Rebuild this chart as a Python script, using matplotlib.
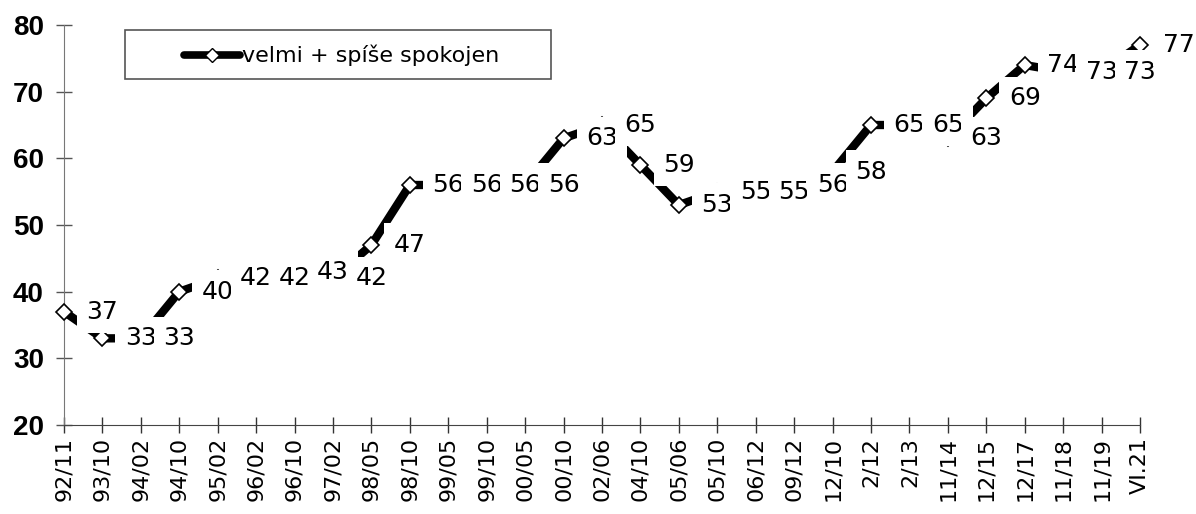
import matplotlib.pyplot as plt
from matplotlib.lines import Line2D
from matplotlib.patches import Rectangle

obdobi = ["92/11", "93/10", "94/02", "94/10", "95/02", "96/02", "96/10", "97/02",
          "98/05", "98/10", "99/05", "99/10", "00/05", "00/10", "02/06", "04/10",
          "05/06", "05/10", "06/12", "09/12", "12/10", "2/12", "2/13", "11/14",
          "12/15", "12/17", "11/18", "11/19", "VI.21"]
spokojen = [37, 33, 33, 40, 42, 42, 43, 42, 47, 56, 56, 56, 56, 63, 65, 59,
            53, 55, 55, 56, 58, 65, 65, 63, 69, 74, 73, 73, 77]
nazev = "velmi + spíše spokojen"

fig = plt.figure(figsize=(11.96, 5.14), dpi=100)
ax = fig.add_axes([64 / 1196, 1 - 425 / 514, (1140 - 64) / 1196, 400 / 514])

x = list(range(len(obdobi)))
ax.plot(x, spokojen, color="black", linewidth=6, marker="D", markersize=8.5,
        markerfacecolor="white", markeredgecolor="black", markeredgewidth=1.2,
        zorder=3, clip_on=False)

# popisky hodnot - posunute o jedno obdobi doprava, s bilym pozadim
for i, v in enumerate(spokojen):
    ax.text(i + 1, v, str(v), ha="center", va="center", fontsize=18,
            family="DejaVu Sans", zorder=5, clip_on=False,
            bbox=dict(boxstyle="square,pad=0.38", facecolor="white", edgecolor="none"))

ax.set_xlim(0, len(obdobi) - 1)
ax.set_ylim(20, 80)
ax.set_yticks([20, 30, 40, 50, 60, 70, 80])
ax.set_xticks(x)
ax.set_xticklabels(obdobi, rotation=90, fontsize=16, family="DejaVu Sans")
for lab in ax.get_yticklabels():
    lab.set_fontfamily("Liberation Sans")
    lab.set_fontweight("bold")
    lab.set_fontsize(20)

ax.tick_params(axis="y", direction="inout", length=11, width=1, pad=9, colors="#555555", labelcolor="black")
ax.tick_params(axis="x", direction="inout", length=11, width=1, pad=3, colors="#333333", labelcolor="black")
ax.spines["top"].set_visible(False)
ax.spines["right"].set_visible(False)
ax.spines["left"].set_color("#777777")
ax.spines["bottom"].set_color("#444444")

# legenda
fig.patches.append(Rectangle((125 / 1196, 1 - 79 / 514), 426 / 1196, 49 / 514,
                             transform=fig.transFigure, facecolor="white",
                             edgecolor="#555555", linewidth=1.2))
fig.lines.append(Line2D([184 / 1196, 240 / 1196], [1 - 55 / 514] * 2, transform=fig.transFigure,
                        color="black", linewidth=5.5, solid_capstyle="round"))
fig.lines.append(Line2D([212 / 1196], [1 - 55 / 514], transform=fig.transFigure,
                        marker="D", markersize=7, markerfacecolor="white",
                        markeredgecolor="black", linestyle="none"))
fig.text(242 / 1196, 1 - 55 / 514, nazev, ha="left", va="center", fontsize=16,
         family="DejaVu Sans")

fig.savefig("out.png", dpi=100)
